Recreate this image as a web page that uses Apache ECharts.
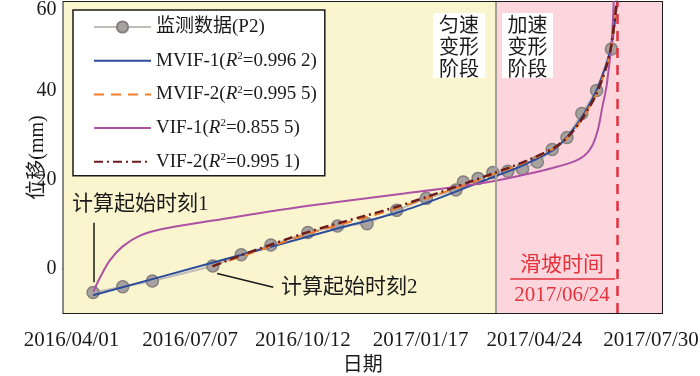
<!DOCTYPE html>
<html>
<head>
<meta charset="utf-8">
<script src="https://cdn.jsdelivr.net/npm/echarts@6/dist/echarts.min.js"></script>
<style>
html, body { margin: 0; padding: 0; background: #fff; }
#chart { width: 700px; height: 376px; }
</style>
</head>
<body>
<div id="chart"></div>
<script>
// x axis: days counted from startDate
const startDate = '2016-04-01'
const endDay = 485
const tickStep = 97
const xTickLabels = ['2016/04/01', '2016/07/07', '2016/10/12', '2017/01/17', '2017/04/24', '2017/07/30']
const yTicks = [0, 20, 40, 60]

const seriesNames = ['监测数据(P2)', 'MVIF-1', 'MVIF-2', 'VIF-1', 'VIF-2']
const r2Values = [null, '0.996 2', '0.995 5', '0.855 5', '0.995 1']

// monitoring data
const monitorDates = [
  '2016-04-25', '2016-05-19', '2016-06-12', '2016-07-31', '2016-08-23', '2016-09-16',
  '2016-10-16', '2016-11-09', '2016-12-03', '2016-12-27', '2017-01-20', '2017-02-13',
  '2017-02-19', '2017-03-03', '2017-03-15', '2017-03-27', '2017-04-08', '2017-04-20',
  '2017-05-02', '2017-05-14', '2017-05-26', '2017-06-07', '2017-06-19'
]
const monitorValues = [
  -5.4, -4.1, -2.8, 0.6, 3.1, 5.3, 8.1, 9.6, 10.1, 13.1, 15.8, 17.7,
  19.5, 20.3, 21.6, 21.9, 22.4, 24.0, 26.8, 29.5, 34.9, 40.1, 49.4
]

// fitted curves (day, mm)
const mvif1Days = [24, 120.5, 221.9, 270.6, 300, 329.8, 348.4, 372.7, 397, 409.2, 421.3, 432.7, 443.2, 447.3, 449.6]
const mvif1Vals = [-6.0, 1.3, 9.0, 12.6, 15.4, 18.6, 20.6, 23.3, 26.7, 30.0, 34.6, 40.6, 49.2, 56.6, 63]

const mvif2Days = [120.7, 143, 198, 246, 270, 295, 330, 348, 373, 397, 409, 421, 433, 443, 448.7]
const mvif2Vals = [0.6, 2.6, 7.8, 11.6, 13.6, 15.9, 19.3, 21.2, 23.8, 27.0, 29.6, 34.0, 40.0, 48.6, 61]

const vif1Days = [24.2, 30, 38, 48, 62, 80, 121, 175, 222, 276, 316, 349, 373, 397, 413, 422, 428, 433, 436.4, 440.4, 444.4, 446.2]
const vif1Vals = [-5.2, -1.8, 2.0, 5.0, 7.4, 8.9, 10.8, 13.2, 15.0, 16.9, 18.3, 19.7, 21.1, 22.7, 24.0, 25.4, 27.4, 31.2, 36.0, 41.7, 52, 63]

const vif2Days = [120.7, 143, 198, 246, 270, 295, 330, 348, 373, 397, 409, 421, 433, 443, 448.5]
const vif2Vals = [0.5, 2.9, 8.2, 12.0, 13.9, 16.2, 19.6, 21.4, 24.0, 27.1, 29.7, 34.0, 40.0, 48.8, 61]

// stage boundaries and landslide day
const stageSplitDay = 350
const slideDay = 449

const FONT = '"Liberation Serif", "Noto Sans CJK SC", serif'
const INK = '#1a1a1a'
const RED = '#e3323c'
const xLabelShift = [8, 7, 0, -2, -8, -11]

function dayOf(s) {
  return Math.round((Date.parse(s) - Date.parse(startDate)) / 86400000)
}
function pairs(xs, ys) {
  return xs.map((x, i) => [x, ys[i]])
}

const xRich = {}
xLabelShift.forEach((s, i) => {
  xRich['p' + i] = {
    fontFamily: FONT, fontSize: 21, color: INK,
    padding: s >= 0 ? [0, 0, 0, 2 * s] : [0, -2 * s, 0, 0],
  }
})

const chart = echarts.init(document.getElementById('chart'), null, { renderer: 'canvas' })

chart.setOption({
  animation: false,
  textStyle: { fontFamily: FONT },
  grid: {
    left: 63.5, right: 38, top: 2, bottom: 63, outerBoundsMode: 'none',
    show: true, borderColor: INK, borderWidth: 2, backgroundColor: 'transparent',
  },
  legend: {
    left: 73, top: 10, orient: 'vertical',
    backgroundColor: '#fff', borderColor: INK, borderWidth: 1.5,
    padding: [7, 8, 4, 20],
    itemWidth: 57, itemHeight: 14, itemGap: 13.7,
    data: seriesNames.map((n, i) => (i === 0 ? n : { name: n, itemStyle: { opacity: 0 } })),
    textStyle: {
      fontFamily: FONT, fontSize: 19, color: INK, lineHeight: 20,
      rich: {
        i: { fontFamily: FONT, fontSize: 19, fontStyle: 'italic', color: INK },
        s: { fontFamily: FONT, fontSize: 11, color: INK, verticalAlign: 'top', lineHeight: 12 },
      },
    },
    formatter: name => {
      const k = seriesNames.indexOf(name)
      return r2Values[k] ? name + '({i|R}{s|2}=' + r2Values[k] + ')' : name
    },
  },
  xAxis: {
    type: 'value',
    min: 0, max: endDay, interval: tickStep,
    name: '日期', nameLocation: 'middle', nameGap: 43, nameMoveOverlap: false,
    nameTextStyle: { fontFamily: FONT, fontSize: 20, color: INK },
    axisLine: { lineStyle: { color: INK, width: 2 } },
    axisTick: { inside: true, length: 9, lineStyle: { color: INK, width: 2 } },
    axisLabel: {
      margin: 17, color: INK, fontSize: 21, fontFamily: FONT,
      showMinLabel: true, showMaxLabel: true,
      formatter: v => {
        const k = Math.round(v / tickStep)
        return '{p' + k + '|' + xTickLabels[k] + '}'
      },
      rich: xRich,
    },
    splitLine: { show: false },
  },
  yAxis: {
    type: 'value',
    min: -10, max: 60,
    name: '位移(mm)', nameLocation: 'middle', nameGap: 16, nameMoveOverlap: false,
    nameTextStyle: { fontFamily: FONT, fontSize: 20, color: INK },
    axisLine: { lineStyle: { color: INK, width: 2 } },
    axisTick: { inside: true, length: 9, customValues: yTicks, lineStyle: { color: INK, width: 2 } },
    axisLabel: {
      customValues: yTicks, margin: 7, color: INK, fontSize: 20, fontFamily: FONT,
      formatter: v => (v === 60 ? '{t|60}' : '{n|' + v + '}'),
      rich: {
        t: { fontFamily: FONT, fontSize: 20, color: INK, padding: [16, 0, 0, 0] },
        n: { fontFamily: FONT, fontSize: 20, color: INK },
      },
    },
    splitLine: { show: false },
  },
  series: [
    {
      name: seriesNames[0],
      type: 'line',
      data: pairs(monitorDates.map(dayOf), monitorValues),
      symbol: 'circle', symbolSize: 12,
      itemStyle: { color: '#a7a29f', borderColor: '#85807d', borderWidth: 1.5 },
      lineStyle: { color: '#c2bcb9', width: 2 },
      z: 2,
      markArea: {
        silent: true,
        data: [
          [{ xAxis: 0, itemStyle: { color: '#faf5cf' } }, { xAxis: stageSplitDay }],
          [{ xAxis: stageSplitDay, itemStyle: { color: '#fdd6dd' } }, { xAxis: endDay }],
        ],
      },
      markLine: {
        silent: true, symbol: 'none', label: { show: false },
        data: [
          { xAxis: stageSplitDay, lineStyle: { color: '#a3a09c', width: 2, type: 'solid' } },
          // leader lines for the start moments
          [{ coord: [24.2, 10.3], lineStyle: { color: INK, width: 1.5, type: 'solid' } }, { coord: [24.2, -3.1] }],
          [{ coord: [124.5, -1.1], lineStyle: { color: INK, width: 1.5, type: 'solid' } }, { coord: [170, -4.2] }],
          // underline between landslide label and date
          [{ coord: [362, -2.4], lineStyle: { color: RED, width: 1.5, type: 'solid' } }, { coord: [447, -2.4] }],
        ],
      },
    },
    {
      name: seriesNames[1], type: 'line', data: pairs(mvif1Days, mvif1Vals),
      symbol: 'none', smooth: 0.3, z: 3,
      itemStyle: { color: '#2b4b9b' }, lineStyle: { color: '#2b4b9b', width: 2 },
    },
    {
      name: seriesNames[2], type: 'line', data: pairs(mvif2Days, mvif2Vals),
      symbol: 'none', smooth: 0.3, z: 4,
      itemStyle: { color: '#f07f2c' }, lineStyle: { color: '#f07f2c', width: 2, type: [10, 7] },
    },
    {
      name: seriesNames[3], type: 'line', data: pairs(vif1Days, vif1Vals),
      symbol: 'none', smooth: 0.35, z: 3,
      itemStyle: { color: '#ad52a3' }, lineStyle: { color: '#ad52a3', width: 2 },
    },
    {
      name: seriesNames[4], type: 'line', data: pairs(vif2Days, vif2Vals),
      symbol: 'none', smooth: 0.3, z: 5,
      itemStyle: { color: '#6e1c1c' }, lineStyle: { color: '#6e1c1c', width: 2.5, type: [9, 4, 2, 4] },
      markLine: {
        silent: true, symbol: 'none', label: { show: false },
        data: [{ xAxis: slideDay, lineStyle: { color: RED, width: 2.5, type: [10, 7] } }],
      },
    },
  ],
  graphic: [
    { type: 'rect', z: 100, shape: { x: 433, y: 13, width: 52, height: 65 }, style: { fill: '#fff' } },
    { type: 'text', z: 101, x: 459, y: 46, style: { text: '匀速\n变形\n阶段', fontFamily: 'Noto Sans CJK SC', fontSize: 20, lineHeight: 22, fill: INK, align: 'center', verticalAlign: 'middle' } },
    { type: 'rect', z: 100, shape: { x: 502, y: 13, width: 51, height: 65 }, style: { fill: '#fff' } },
    { type: 'text', z: 101, x: 527.5, y: 46, style: { text: '加速\n变形\n阶段', fontFamily: 'Noto Sans CJK SC', fontSize: 20, lineHeight: 22, fill: INK, align: 'center', verticalAlign: 'middle' } },
    { type: 'text', z: 101, x: 72, y: 204, style: { text: '计算起始时刻1', fontFamily: FONT, fontSize: 21, fill: INK, align: 'left', verticalAlign: 'middle' } },
    { type: 'text', z: 101, x: 281, y: 287, style: { text: '计算起始时刻2', fontFamily: FONT, fontSize: 21, fill: INK, align: 'left', verticalAlign: 'middle' } },
    { type: 'text', z: 101, x: 562, y: 265, style: { text: '滑坡时间', fontFamily: FONT, fontSize: 21, fill: RED, align: 'center', verticalAlign: 'middle' } },
    { type: 'text', z: 101, x: 562, y: 295, style: { text: '2017/06/24', fontFamily: FONT, fontSize: 21, fill: RED, align: 'center', verticalAlign: 'middle' } },
  ],
})
</script>
</body>
</html>
